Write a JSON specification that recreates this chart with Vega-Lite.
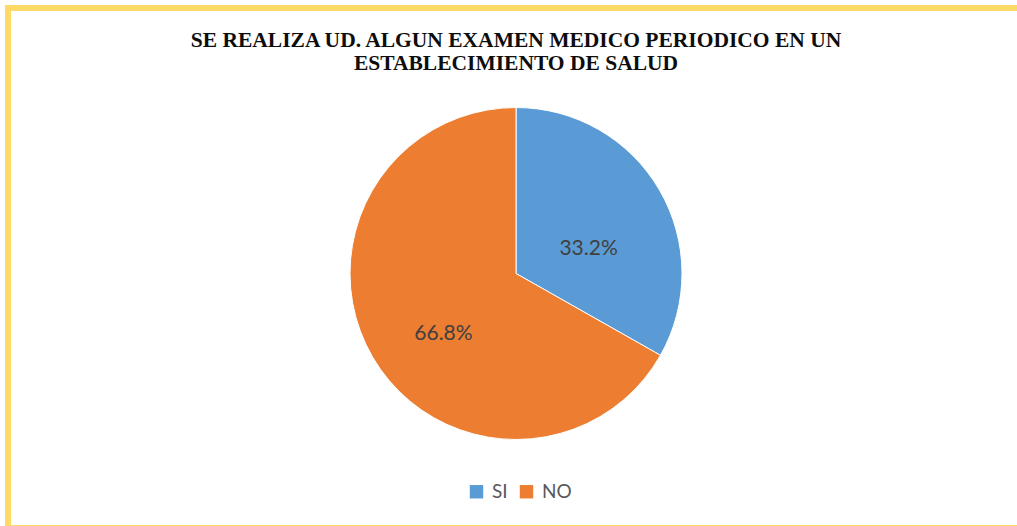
{
  "$schema": "https://vega.github.io/schema/vega-lite/v6.json",
  "autosize": {"type": "none"},
  "width": 1021,
  "height": 520,
  "padding": {"top": 8, "left": 8, "right": -12, "bottom": -2},
  "background": "white",
  "config": {
    "view": {"stroke": null}
  },
  "title": {
    "text": ["SE REALIZA UD. ALGUN EXAMEN MEDICO PERIODICO EN UN", "ESTABLECIMIENTO DE SALUD"],
    "font": "Liberation Serif",
    "fontSize": 21.5,
    "fontWeight": "bold",
    "color": "#0d0d0d",
    "anchor": "middle",
    "frame": "group",
    "baseline": "alphabetic",
    "lineHeight": 22.5,
    "offset": -86,
    "dx": -2.5
  },
  "layer": [
    {
      "data": {"values": [{"marco": "borde"}]},
      "mark": {"type": "rect", "fill": null, "stroke": "#FFD966", "strokeWidth": 6},
      "encoding": {}
    },
    {
      "data": {
        "values": [
          {"respuesta": "SI", "porcentaje": 33.2, "etiqueta": "33.2%"},
          {"respuesta": "NO", "porcentaje": 66.8, "etiqueta": "66.8%"}
        ]
      },
      "encoding": {
        "theta": {"field": "porcentaje", "type": "quantitative", "stack": true},
        "order": {"field": "orden", "type": "quantitative"},
        "color": {
          "field": "respuesta",
          "type": "nominal",
          "sort": ["SI", "NO"],
          "scale": {"domain": ["SI", "NO"], "range": ["#5B9BD5", "#ED7D31"]},
          "legend": {
            "title": null,
            "orient": "none",
            "direction": "horizontal",
            "legendX": 459,
            "legendY": 474,
            "symbolType": "square",
            "symbolSize": 180,
            "symbolStrokeWidth": 0,
            "labelFont": "Lato",
            "labelFontSize": 19,
            "labelColor": "#595959",
            "columnPadding": 9,
            "labelOffset": 6
          }
        }
      },
      "layer": [
        {
          "mark": {"type": "arc", "outerRadius": 166, "stroke": "white", "strokeWidth": 1, "xOffset": -2.5, "yOffset": 5.5}
        },
        {
          "mark": {"type": "text", "radius": 84, "font": "Lato", "fontSize": 21, "xOffset": -2.5, "yOffset": 23.5},
          "encoding": {
            "text": {"field": "etiqueta", "type": "nominal"},
            "color": {"value": "#404040"}
          }
        }
      ]
    }
  ]
}
